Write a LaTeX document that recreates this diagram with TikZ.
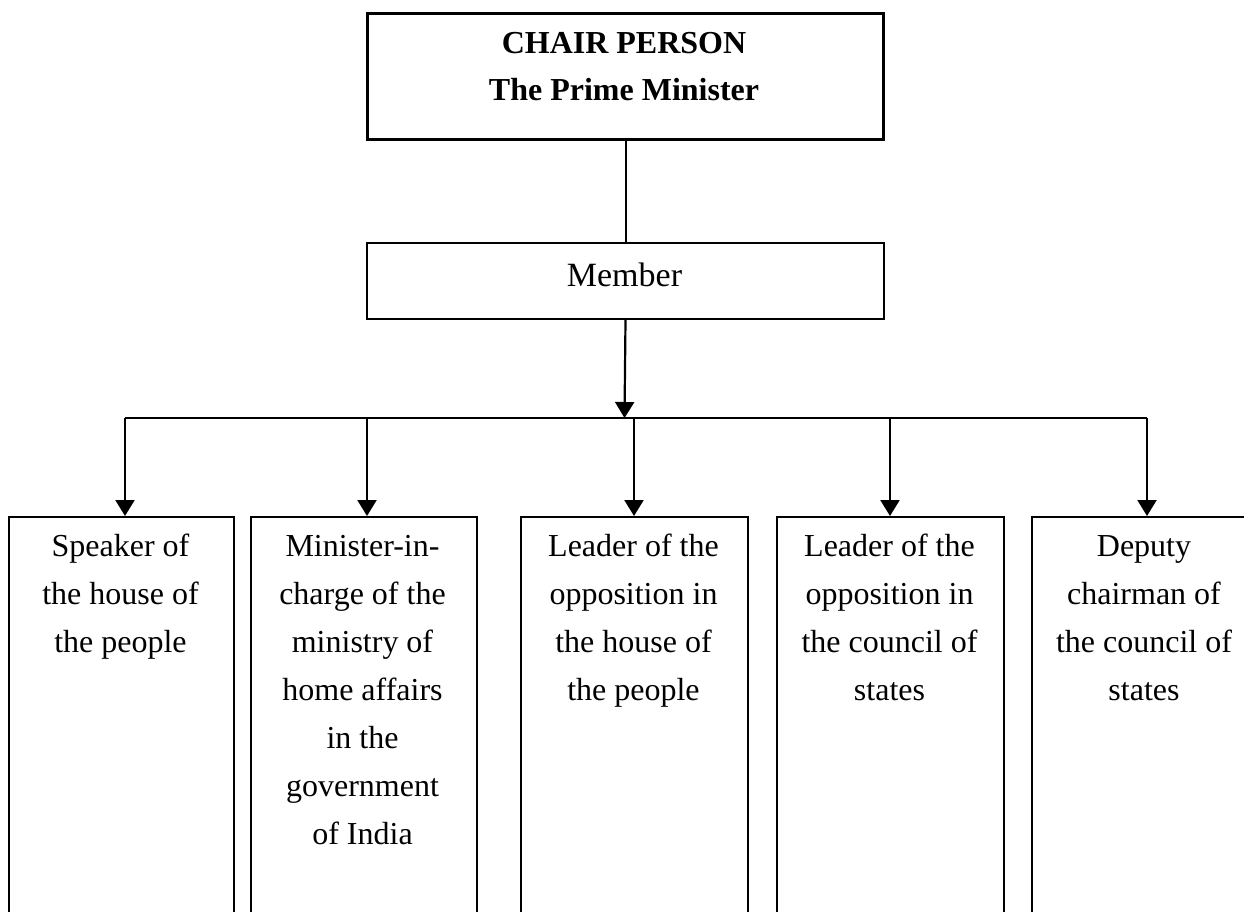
\documentclass[tikz,border=0pt]{standalone}
\usepackage{fontspec}
\setmainfont{Liberation Serif}
\usetikzlibrary{arrows.meta}
\newcommand\firstline{\rule{0pt}{24pt}}
\tikzset{
  box/.style={draw=black, line width=2pt, fill=none, inner sep=0pt, anchor=north west},
  topbox/.style={box, line width=2.6pt},
  txt/.style={align=center, inner sep=0pt, anchor=north, font=\fontsize{32}{48}\selectfont},
  toptxt/.style={align=center, inner sep=0pt, anchor=north, font=\fontsize{32}{47}\selectfont\bfseries},
  conn/.style={line width=2pt},
  arr/.style={line width=2.2pt, -{Triangle[width=19pt,length=16pt]}}
}
\begin{document}
\begin{tikzpicture}[x=1pt,y=-1pt]
\clip (0,0) rectangle (1244,911);
\fill[white] (0,0) rectangle (1244,911);
% top box
\node[topbox, minimum width=516pt, minimum height=126pt] (chair) at (366,12) {};
\node[toptxt] (chairtxt) at (624,29) {\firstline CHAIR PERSON\\The Prime Minister};
% member box
\node[box, minimum width=517pt, minimum height=76pt] (member) at (366,242) {};
\node[anchor=base, inner sep=0pt, font=\fontsize{34}{40}\selectfont] (membertxt) at (624.5,286) {Member};
% bottom boxes
\node[box, minimum width=225pt, minimum height=430pt] (b1) at (8,516) {};
\node[box, minimum width=226pt, minimum height=430pt] (b2) at (250,516) {};
\node[box, minimum width=227pt, minimum height=430pt] (b3) at (520,516) {};
\node[box, minimum width=227pt, minimum height=430pt] (b4) at (776,516) {};
\node[box, minimum width=227pt, minimum height=430pt] (b5) at (1031,516) {};
\node[txt] (t1) at (120.5,532) {\firstline Speaker of\\the house of\\the people};
\node[txt] (t2) at (362.5,532) {\firstline Minister-in-\\charge of the\\ministry of\\home affairs\\in the\\government\\of India};
\node[txt] (t3) at (633.5,532) {\firstline Leader of the\\opposition in\\the house of\\the people};
\node[txt] (t4) at (889.5,532) {\firstline Leader of the\\opposition in\\the council of\\states};
\node[txt] (t5) at (1144,532) {\firstline Deputy\\chairman of\\the council of\\states};
% connectors
\coordinate (barL) at (125,418);
\coordinate (barR) at (1147,418);
\coordinate (barM) at (624.5,418);
\coordinate (j1) at (125,418);
\coordinate (j2) at (367,418);
\coordinate (j3) at (634,418);
\coordinate (j4) at (890,418);
\coordinate (j5) at (1147,418);
\draw[conn] (chair.south -| member.north) -- (member.north);
\draw[arr] (member.south) -- (barM);
\draw[conn] (barL) -- (barR);
\draw[arr] (j1) -- (j1 |- b1.north);
\draw[arr] (j2) -- (j2 |- b2.north);
\draw[arr] (j3) -- (j3 |- b3.north);
\draw[arr] (j4) -- (j4 |- b4.north);
\draw[arr] (j5) -- (j5 |- b5.north);
\end{tikzpicture}
\end{document}
